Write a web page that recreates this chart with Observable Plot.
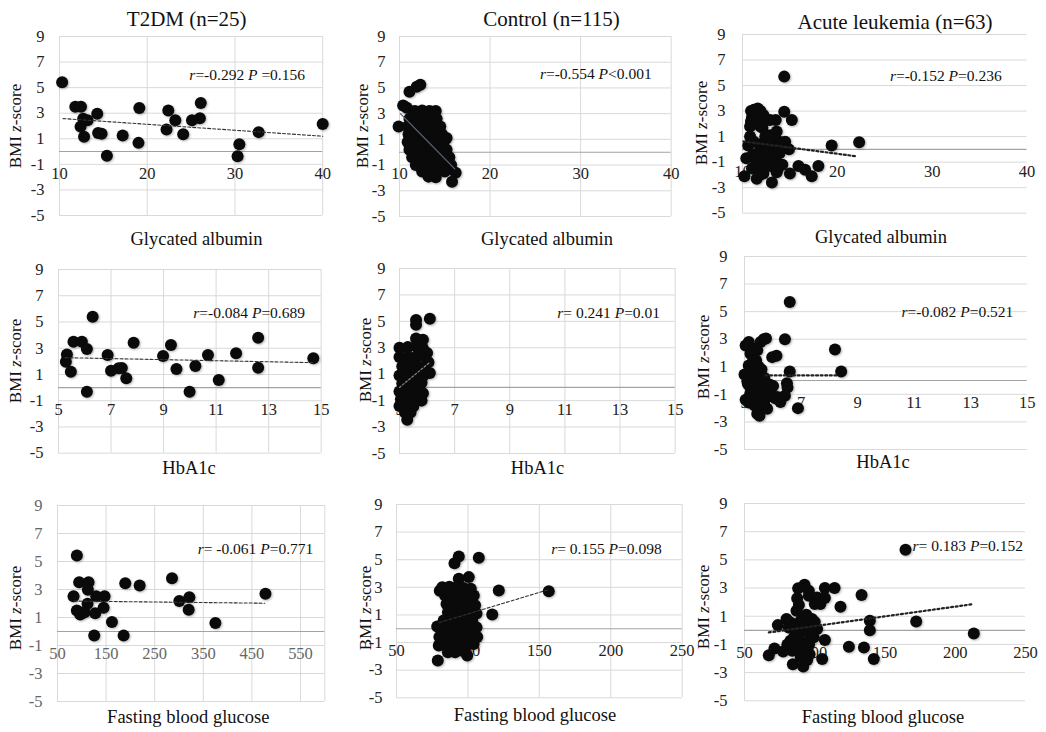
<!DOCTYPE html>
<html><head><meta charset="utf-8">
<script src="https://cdn.jsdelivr.net/npm/d3@7"></script>
<script src="https://cdn.jsdelivr.net/npm/@observablehq/plot@0.6"></script>
<style>
html,body{margin:0;padding:0;background:#fff;}
#root{position:relative;width:1046px;height:732px;overflow:hidden;font-family:"Liberation Serif","Times New Roman",serif;}
#root svg{position:absolute;}
#root svg text{font-family:"Liberation Serif","Times New Roman",serif;}
</style></head><body><div id="root"></div>
<script>
// ---------- tick labels ----------
const yTicks = [-5, -3, -1, 1, 3, 5, 7, 9];
const gaTicks = [10, 20, 30, 40];
const hbTicks = [5, 7, 9, 11, 13, 15];
const fbgT2dmTicks = [50, 150, 250, 350, 450, 550];
const fbgTicks = [50, 100, 150, 200, 250];

// ---------- texts ----------
const groupTitles = ["T2DM (n=25)", "Control (n=115)", "Acute leukemia (n=63)"];
const xTitles = ["Glycated albumin", "HbA1c", "Fasting blood glucose"];
const yTitleParts = ["BMI ", "z", "-score"];
const statR = ["=-0.292 ", "=-0.554 ", "=-0.152 ", "=-0.084 ", "= 0.241 ", "=-0.082 ", "= -0.061 ", "= 0.155 ", "= 0.183 "];
const statP = [" =0.156", "<0.001", "=0.236", "=0.689", "=0.01", "=0.521", "=0.771", "=0.098", "=0.152"];

// ---------- data: [x, BMI z-score] ----------
const t2dmGA = [[10.3,5.43],[11.8,3.5],[12.45,3.5],[12.7,2.56],[13.2,2.45],[12.4,1.95],[12.8,1.15],[14.3,2.95],[14.4,1.45],[14.8,1.4],[15.4,-0.33],[17.2,1.26],[19.0,0.68],[19.1,3.4],[22.2,1.72],[22.4,3.22],[23.2,2.45],[24.1,1.36],[25.1,2.45],[26.0,2.6],[26.1,3.8],[30.3,-0.36],[30.5,0.57],[32.7,1.52],[40.0,2.15]];
const t2dmGATrend = [[10.4,2.58],[40,1.2]];

const ctrlGA = [[11.1,4.7],[11.9,5.1],[12.3,5.25],[10.4,3.63],[10.8,3.45],[9.9,2.0],[13.6,3.15],[16.2,-1.6],[15.8,-2.3],[15.2,1.1],
 [11.7,3.2],[12.5,3.25],[13.3,3.2],[14.0,3.2],
 [11.1,2.6],[11.9,2.6],[12.7,2.6],[13.5,2.6],[14.1,2.6],
 [10.9,2.0],[11.6,2.0],[12.4,2.0],[13.2,2.0],[14.0,2.0],[14.5,2.0],
 [11.0,1.4],[11.8,1.4],[12.6,1.4],[13.4,1.4],[14.2,1.4],[14.7,1.4],
 [10.9,0.8],[11.7,0.8],[12.5,0.8],[13.3,0.8],[14.1,0.8],[14.9,0.8],
 [11.1,0.2],[11.9,0.2],[12.7,0.2],[13.5,0.2],[14.3,0.2],[15.2,0.2],
 [11.4,-0.4],[12.2,-0.4],[13.0,-0.4],[13.8,-0.4],[14.6,-0.4],[15.5,-0.4],
 [11.8,-1.0],[12.6,-1.0],[13.4,-1.0],[14.2,-1.0],[15.0,-1.0],[15.7,-1.0],
 [12.5,-1.5],[13.3,-1.5],[14.1,-1.5],[15.0,-1.5],
 [13.2,-1.9],[14.0,-1.95]];
const ctrlGATrend = [[10.1,3.0],[16.1,-1.3]];

const leukGA = [[14.4,5.7],[14.4,2.95],[15.2,2.3],
 [10.9,3.0],[11.2,3.1],[11.6,3.2],[11.9,3.0],[12.2,2.7],[11.0,2.5],[11.3,2.3],[10.9,2.2],[11.8,2.4],[11.9,1.8],[12.1,1.7],[10.8,1.8],[12.6,2.3],[13.5,2.3],[12.9,2.3],
 [13.6,1.4],[10.8,1.0],[12.9,1.1],[12.6,0.9],[13.4,0.7],[13.9,0.6],[14.5,0.6],[10.6,0.3],[11.2,0.6],[11.8,0.4],[12.3,0.2],[13.0,0.3],[13.7,0.1],[14.9,0.0],[12.0,-0.1],[11.6,-0.3],
 [12.5,-0.3],[13.2,-0.4],[13.9,-0.3],[10.4,-0.7],[11.4,-0.8],[12.1,-0.9],[12.8,-1.0],[13.5,-0.9],[14.2,-1.2],[11.0,-1.5],[11.6,-1.3],[12.3,-1.5],[13.0,-1.3],[13.7,-1.6],[11.5,-2.3],[11.8,-2.0],[12.2,-1.9],[13.1,-2.6],[10.2,-2.1],[13.6,-1.8],
 [15.0,-1.9],[15.9,-1.3],[16.6,-1.6],[17.3,-2.1],[18.0,-1.3],[19.4,0.3],[22.3,0.55],[12.4,1.0],[11.1,-0.4]];
const leukGATrend = [[10.1,0.62],[22.1,-0.55]];

const t2dmHb = [[6.3,5.4],[5.57,3.5],[5.89,3.5],[6.08,2.94],[6.87,2.48],[7.86,3.42],[5.32,2.53],[5.28,1.97],[5.47,1.21],[6.08,-0.31],[7.0,1.29],[7.29,1.47],[7.41,1.5],[7.58,0.71],[8.98,2.41],[9.28,3.24],[9.49,1.42],[9.99,-0.31],[10.21,1.65],[10.69,2.48],[11.1,0.58],[11.76,2.61],[12.6,3.8],[12.6,1.52],[14.7,2.23]];
const t2dmHbTrend = [[5.25,2.28],[14.72,1.9]];

const ctrlHb = [[5.0,3.0],[5.3,3.05],[5.6,3.1],[5.85,2.95],
 [5.0,2.3],[5.3,2.35],[5.6,2.3],[5.85,2.4],
 [5.1,1.6],[5.35,1.6],[5.6,1.65],[5.85,1.55],
 [5.0,0.9],[5.3,0.95],[5.6,0.9],[5.85,0.85],
 [5.1,0.3],[5.35,0.3],[5.6,0.25],[5.8,0.35],
 [5.0,-0.3],[5.3,-0.3],[5.55,-0.35],[5.75,-0.3],
 [5.05,-0.9],[5.3,-0.9],[5.6,-0.95],[5.8,-1.0],
 [5.0,-1.4],[5.25,-1.4],[5.5,-1.45],
 [5.2,-1.9],[5.4,-1.9],[5.28,-2.45],
 [6.0,2.6],[6.05,1.9],[6.1,1.1],[5.85,-0.45],
 [5.6,5.1],[5.6,4.75],[6.1,5.2],[5.6,3.7],[5.85,3.6]];
const ctrlHbTrend = [[5.0,0.0],[6.1,1.9]];

const leukHb = [[6.6,5.7],[6.43,3.0],[5.68,3.0],[5.76,3.05],[5.57,2.8],[5.04,2.55],[5.15,2.8],[5.33,2.3],[5.45,2.2],[5.21,1.95],[5.98,1.7],[6.13,1.8],[5.41,1.45],[8.2,2.25],[8.42,0.66],[6.6,0.66],
 [5.15,1.1],[5.3,0.9],[5.6,0.8],[5.25,0.6],[5.45,0.5],[5.0,0.44],[5.55,0.3],[5.35,0.2],
 [6.01,-0.4],[6.5,-0.2],[6.52,-0.5],[5.12,-0.25],[5.22,-0.55],[5.4,-0.45],[5.7,-0.6],[5.3,-0.8],[5.5,-0.75],[5.9,-0.7],
 [5.04,-1.4],[5.2,-1.0],[5.4,-1.15],[5.6,-1.0],[5.8,-1.2],[5.25,-1.3],[5.5,-1.4],[5.7,-1.5],[6.16,-1.2],[6.43,-1.1],[6.27,-1.55],[6.89,-2.0],[5.8,-2.05],[5.65,-1.8],[5.55,-1.7],[5.45,-2.4],[5.53,-2.55],
 [5.1,-0.05],[5.35,-0.1],[5.6,-0.2],[5.9,-0.3],[5.15,-1.6],[5.35,-1.8],[5.65,-1.35],[5.95,-1.1],[6.1,-1.3],[5.3,1.4],[5.5,1.0],[5.7,0.2]];
const leukHbTrend = [[5.74,0.37],[8.34,0.37]];

const t2dmFBG = [[89.8,5.43],[94.6,3.52],[113.9,3.52],[112.5,2.98],[83,2.52],[129.7,2.52],[146.8,2.52],[189.4,3.45],[219,3.29],[285.6,3.81],[300.7,2.17],[321.3,2.45],[319.9,1.55],[374.9,0.6],[477.9,2.69],[111.8,1.98],[89.8,1.5],[96.7,1.21],[105.6,1.38],[127.6,1.31],[144.8,1.69],[162,0.67],[125.5,-0.29],[186,-0.29],[101,1.3]];
const t2dmFBGTrend = [[84.3,2.17],[476.5,2.02]];

const ctrlFBG = [[93.6,5.23],[90.6,4.75],[107.6,5.14],[93.6,3.62],[100.6,3.74],[121.6,2.77],[156.6,2.72],[117,1.03],[78.9,-2.3],[79.6,-1.21],[78.5,0.17],[104.1,2.41],[106.5,-0.6],[99.5,-1.93],[80.3,2.75],
 [82,3.0],[87,3.05],[92,3.0],[97,2.95],[102,2.9],
 [84,2.4],[89,2.4],[94,2.4],[99,2.4],
 [85,1.8],[90,1.8],[95,1.8],[100,1.8],[105,1.7],
 [86,1.2],[91,1.2],[96,1.2],[101,1.2],[106,1.1],
 [83,0.6],[88,0.6],[93,0.6],[98,0.6],[103,0.6],
 [81,0.0],[86,0.0],[91,0.0],[96,0.0],[101,0.0],[106,0.1],
 [80,-0.6],[85,-0.6],[90,-0.6],[95,-0.6],[100,-0.6],
 [84,-1.2],[89,-1.2],[94,-1.2],[99,-1.2],[104,-1.1],
 [86,-1.7],[91,-1.7],[96,-1.6]];
const ctrlFBGTrend = [[80,0.45],[157,2.85]];

const leukFBG = [[164.6,5.71],[114.1,3.0],[107.2,3.0],[107.2,2.3],[133.3,2.5],[118.3,1.67],[139.2,0.68],[139.2,0.0],[172.2,0.63],[213.2,-0.22],[124.3,-1.17],[135,-1.22],[142,-2.04],[107.2,-0.69],[105.3,-2.04],[73.7,0.37],[67.3,-1.76],[71.3,-1.29],[77.5,-1.5],[84.4,-2.4],[91.8,-2.56],[94.6,-2.1],[96.3,-1.69],[88.2,2.99],[92.7,3.23],[95.8,2.8],[95.8,2.45],[87.5,2.28],[88.7,1.8],[87,1.39],[101.7,2.33],[104,1.86],[100,1.86],[79.9,0.8],[82.7,0.56],[81.5,0.2],[92,0.9],[94,0.7],[98,0.8],[100,0.6],[89.9,0.67],[91,0.44],[101.7,0.09],[99.3,-0.5],[95.8,-0.15],[97,-0.4],[82.7,-0.74],[85.1,-0.5],[88.7,-0.35],[82.5,-1.2],[84,-1.45],[86.5,-1.35],[93,-1.3],[92,-0.9],[91,0.08],[86,0.1],[93,-1.6],[90,-1.9],[98,0.1],[94,1.1],[96,-1.0],[80.5,-1.0],[89,-0.9]];
const leukFBGTrend = [[67.3,-0.15],[212.8,1.86]];

// ---------- layout & styles ----------
const dashed = {stroke: "#333", strokeWidth: 1.1, strokeDasharray: "3,2"};
const solid = {stroke: "#5b6478", strokeWidth: 1.3};
const dotted = {stroke: "#222", strokeWidth: 2.2, strokeDasharray: "2,2.6"};
const faint = {stroke: "#8a8a8a", strokeWidth: 1.2, strokeDasharray: "2,2"};

const panels = [
 {data: t2dmGA, trend: t2dmGATrend, line: dashed, xd: [10,40], xt: gaTicks, xg: gaTicks, frame: [58.5,36,321.7,215], pad: 15, tc: "#222"},
 {data: ctrlGA, trend: ctrlGATrend, line: solid, xd: [10,40], xt: gaTicks, xg: gaTicks, frame: [399,36,670.7,216], pad: 14, tc: "#222"},
 {data: leukGA, trend: leukGATrend, line: dotted, xd: [10,40], xt: gaTicks, xg: [10], frame: [742,34.3,1026.5,213], pad: 17, tc: "#222"},
 {data: t2dmHb, trend: t2dmHbTrend, line: dashed, xd: [5,15], xt: hbTicks, xg: hbTicks, frame: [58,269.3,320.7,453], pad: 15, tc: "#222"},
 {data: ctrlHb, trend: ctrlHbTrend, line: faint, xd: [5,15], xt: hbTicks, xg: hbTicks, frame: [399.3,268,675,453], pad: 14, tc: "#222"},
 {data: leukHb, trend: leukHbTrend, line: dotted, xd: [5,15], xt: hbTicks, xg: [5], frame: [744,256,1026.7,449], pad: 17, tc: "#222"},
 {data: t2dmFBG, trend: t2dmFBGTrend, line: dashed, xd: [50,600], xt: fbgT2dmTicks, xg: [...fbgT2dmTicks, 600], frame: [57.3,505,324.6,701], pad: 15, tc: "#666"},
 {data: ctrlFBG, trend: ctrlFBGTrend, line: dashed, xd: [50,250], xt: fbgTicks, xg: fbgTicks, frame: [396,504,681.7,697.3], pad: 14, tc: "#222"},
 {data: leukFBG, trend: leukFBGTrend, line: dotted, xd: [50,250], xt: fbgTicks, xg: [50], frame: [744,502.7,1025,700], pad: 17, tc: "#222"}
];

const titlePos = [[186.7,18.5],[551.5,18.5],[895,21.5]];
const yTitlePos = [[15,126],[362,126],[701,123],[15,361],[365,360],[703,357],[15,608],[365,608],[703,607]];
const xTitlePos = [[196.5,239],[547,239],[881,237],[189,468],[537.5,468],[883,462],[188.3,717],[535,715],[883,717]];
const statPos = [[305,75],[651.7,74],[1001.7,76],[305,312.7],[660,312.7],[1013.3,311.7],[313.3,548.3],[661.7,548.3],[1023,546]];

const FONT = '"Liberation Serif", "Times New Roman", serif';
const root = document.getElementById("root");
const ML = 45, MR = 12, MT = 12, MB = 12;

panels.forEach(p => {
  const [l, t, r, b] = p.frame;
  const svg = Plot.plot({
    width: r - l + ML + MR, height: b - t + MT + MB,
    marginLeft: ML, marginRight: MR, marginTop: MT, marginBottom: MB,
    x: {domain: p.xd, axis: null},
    y: {domain: [-5, 9], axis: null},
    style: {background: "transparent", overflow: "visible", fontFamily: FONT},
    marks: [
      Plot.ruleY(yTicks, {stroke: "#d9d9d9", strokeWidth: 1}),
      Plot.ruleX(p.xg, {stroke: "#d9d9d9", strokeWidth: 1}),
      Plot.ruleY([0], {stroke: "#a3a3a3", strokeWidth: 1.1}),
      Plot.text(yTicks, {x: () => p.xd[0], y: d => d, text: d => String(d), textAnchor: "end", dx: -p.pad, lineAnchor: "middle", fontSize: 16.5, fontFamily: FONT, fill: p.tc}),
      Plot.text(p.xt, {x: d => d, y: () => 0, text: d => String(d), dy: 22, lineAnchor: "middle", fontSize: 16.5, fontFamily: FONT, fill: p.tc}),
      Plot.dot(p.data, {x: d => d[0], y: d => d[1], r: 6, fill: "#0a0a0a", stroke: "none"}),
      Plot.line(p.trend, {x: d => d[0], y: d => d[1], ...p.line})
    ]
  });
  svg.style.left = (l - ML) + "px";
  svg.style.top = (t - MT) + "px";
  d3.select(svg).selectAll('g[aria-label="dot"]').style("filter", "drop-shadow(1px 1.5px 1px rgba(0,0,0,0.3))");
  root.appendChild(svg);
});

// overlay texts
const ov = d3.select(root).append("svg")
  .attr("width", 1046).attr("height", 732)
  .style("left", "0px").style("top", "0px").style("pointer-events", "none")
  .attr("font-family", FONT).style("overflow", "visible");

groupTitles.forEach((s, i) => {
  ov.append("text").attr("x", titlePos[i][0]).attr("y", titlePos[i][1]).attr("dy", "0.35em")
    .attr("text-anchor", "middle").attr("font-size", 21).attr("fill", "#111").text(s);
});
yTitlePos.forEach(([x, y]) => {
  const t = ov.append("text").attr("transform", `translate(${x},${y}) rotate(-90)`).attr("dy", "0.35em")
    .attr("text-anchor", "middle").attr("font-size", 17).attr("fill", "#111").style("white-space", "pre");
  t.append("tspan").text(yTitleParts[0]);
  t.append("tspan").attr("font-style", "italic").text(yTitleParts[1]);
  t.append("tspan").text(yTitleParts[2]);
});
xTitlePos.forEach(([x, y], i) => {
  ov.append("text").attr("x", x).attr("y", y).attr("dy", "0.35em").attr("text-anchor", "middle")
    .attr("font-size", 18.5).attr("fill", "#111").text(xTitles[Math.floor(i / 3)]);
});
statPos.forEach(([x, y], i) => {
  const t = ov.append("text").attr("x", x).attr("y", y).attr("dy", "0.35em").attr("text-anchor", "end")
    .attr("font-size", 15.5).attr("fill", "#111").style("white-space", "pre");
  t.append("tspan").attr("font-style", "italic").text("r");
  t.append("tspan").text(statR[i]);
  t.append("tspan").attr("font-style", "italic").text("P");
  t.append("tspan").text(statP[i]);
});
</script></body></html>
